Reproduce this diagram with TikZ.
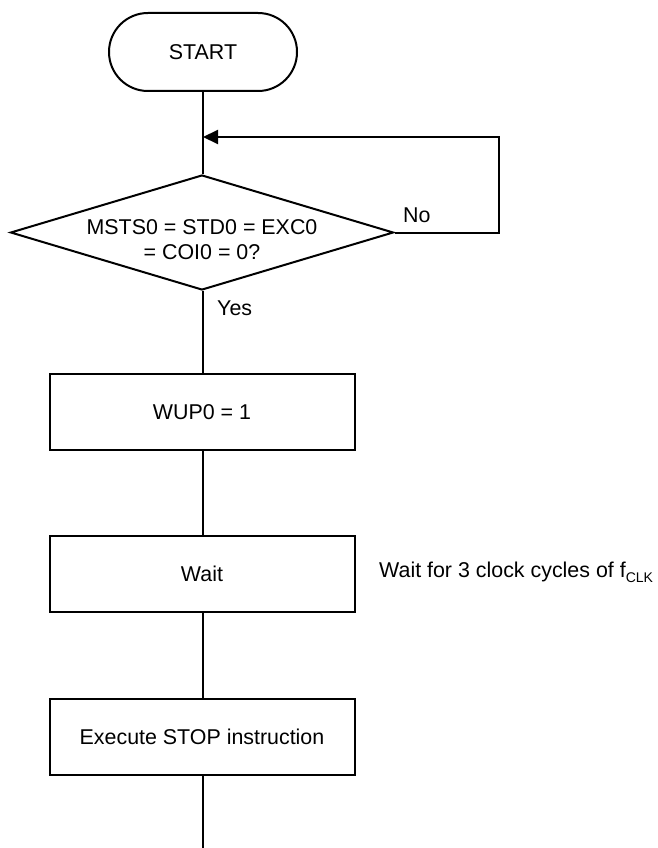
\documentclass[tikz,border=0pt]{standalone}
\usepackage{fontspec}
\setmainfont{Liberation Sans}
\usetikzlibrary{shapes.geometric,arrows.meta}
\tikzset{
  base/.style={font=\fontsize{21.4}{25}\selectfont},
  line/.style={line width=2pt},
  terminal/.style={base,draw,line,rounded corners=38.9pt,minimum width=188pt,minimum height=78pt,inner sep=0pt},
  decision/.style={draw,line,shape=diamond,minimum width=383pt,minimum height=115pt,inner sep=0pt},
  procbox/.style={base,draw,line,minimum width=305pt,minimum height=76pt,inner sep=0pt},
  lbl/.style={base,inner sep=0pt},
  flow/.style={line},
  loopback/.style={line,-{Triangle[length=15pt,width=14pt]}}
}
\begin{document}
\begin{tikzpicture}[x=1pt,y=-1pt]
\useasboundingbox (0,0) rectangle (657,848);
\node[terminal] (start) at (203,52) {START};
\node[decision] (dec) at (202,232.5) {};
\node[lbl,align=center] (dectext) at (202,239.5) {MSTS0 = STD0 = EXC0\\= COI0 = 0?};
\node[lbl,anchor=base west] (no) at (403,222.5) {No};
\node[lbl,anchor=base west] (yes) at (217,315.5) {Yes};
\node[procbox] (wup) at (202,412) {WUP0 = 1};
\node[procbox] (wait) at (202,574) {Wait};
\node[lbl,anchor=base west] (note) at (379,577) {Wait for 3 clock cycles of f\raisebox{-5pt}{\fontsize{14}{14}\selectfont CLK}};
\node[procbox] (exec) at (202,736.5) {Execute STOP instruction};
\coordinate (join) at (203,137);
\coordinate (loopx) at (499,137);
\coordinate (bot) at (203,848);
\draw[flow] (start.south) -- (start.south |- dec.north);
\draw[loopback] (dec.east) -| (loopx) -- (join);
\draw[flow] (dec.south -| start.south) -- (wup.north -| start.south);
\draw[flow] (wup.south -| start.south) -- (wait.north -| start.south);
\draw[flow] (wait.south -| start.south) -- (exec.north -| start.south);
\draw[flow] (exec.south -| start.south) -- (bot);
\end{tikzpicture}
\end{document}
